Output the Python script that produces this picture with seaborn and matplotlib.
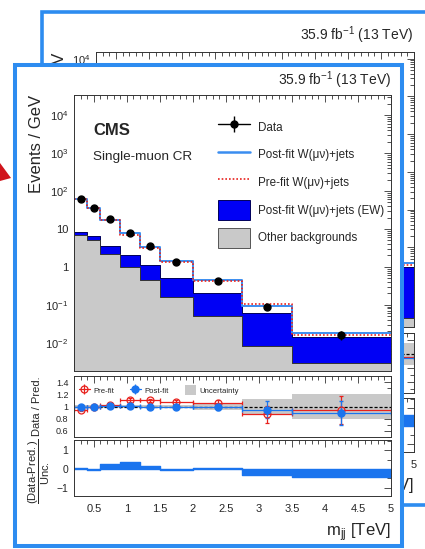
import numpy as np
import matplotlib
matplotlib.use("Agg")
import matplotlib.pyplot as plt
from matplotlib.patches import Rectangle, Polygon, Patch
from matplotlib.lines import Line2D
from matplotlib.legend_handler import HandlerTuple
from matplotlib.ticker import MultipleLocator, LogLocator, NullFormatter, FixedLocator, FixedFormatter
import seaborn as sns

# binning in m_jj [TeV]
edges = [0.2, 0.4, 0.6, 0.9, 1.2, 1.5, 2.0, 2.75, 3.5, 5.0]

# main panel (events / GeV)
data_vals = [60, 36, 18, 8.0, 3.5, 1.35, 0.43, 0.089, 0.016]
data_err = [1.2, 0.9, 0.6, 0.3, 0.2, 0.08, 0.03, 0.009, 0.004]
postfit = [60, 36, 17.5, 7.6, 3.4, 1.45, 0.44, 0.094, 0.018]
prefit = [63, 36, 17, 6.9, 3.15, 1.35, 0.42, 0.105, 0.0165]
ew_stack = [8.5, 6.6, 3.6, 2.0, 1.1, 0.5, 0.21, 0.062, 0.0145]
other_bkg = [7.0, 5.0, 2.2, 1.0, 0.46, 0.16, 0.05, 0.0083, 0.0029]

# ratio panel
ratio_pre = [0.94, 0.99, 1.03, 1.11, 1.10, 1.07, 1.06, 0.87, 0.95]
ratio_pre_err = [0.02, 0.02, 0.02, 0.03, 0.03, 0.03, 0.04, 0.14, 0.23]
ratio_post = [1.0, 1.0, 1.01, 1.01, 1.0, 1.0, 0.99, 0.95, 0.89]
ratio_post_err = [0.02, 0.02, 0.02, 0.03, 0.03, 0.03, 0.04, 0.14, 0.2]
unc_band = [0.02, 0.02, 0.02, 0.03, 0.03, 0.03, 0.05, 0.12, 0.2]

# pull panel
pulls = [0.05, -0.07, 0.28, 0.35, 0.14, -0.05, 0.03, -0.35, -0.42]

# slide behind: only its last bin is visible
back_edges = [3.5, 5.0]
back_postfit = [0.039]
back_prefit = [0.035]
back_ew_stack = [0.030]
back_other = [0.00135]
back_ratio_pre = [0.965]
back_ratio_post = [0.94]
back_unc = [0.155]
back_pulls = [0.6]

lumi_text = r"35.9 fb$^{-1}$ (13 TeV)"
xlabel = r"m$_{\mathrm{jj}}$ [TeV]"

sns.set_style("white")
plt.rcParams["font.family"] = ["Liberation Sans", "DejaVu Sans"]
plt.rcParams["mathtext.fontset"] = "custom"
plt.rcParams["mathtext.rm"] = "Liberation Sans"
plt.rcParams["mathtext.it"] = "Liberation Sans:italic"
plt.rcParams["mathtext.bf"] = "Liberation Sans:bold"

BLUE_LINE = "#3a8df0"
EW_BLUE = "#0000f5"
GREY = "#c9c9c9"
RED = "#e8211d"
PULL_BLUE = "#1a74ee"
FRAME = "#2d8cf0"

W, H = 425, 549


def box(l, t, r, b):
    return [l / W, 1 - b / H, (r - l) / W, (b - t) / H]


def mids(e):
    e = np.asarray(e)
    return 0.5 * (e[1:] + e[:-1])


def style(ax, ysize):
    ax.set_xlim(0.2, 5.0)
    ax.xaxis.set_major_locator(MultipleLocator(0.5))
    ax.xaxis.set_minor_locator(MultipleLocator(0.1))
    ax.tick_params(which="both", direction="in", top=True, right=True,
                   width=0.6, color="#333333")
    ax.tick_params(which="major", length=5)
    ax.tick_params(which="minor", length=2.6)
    ax.tick_params(axis="y", labelsize=ysize, pad=4)
    ax.tick_params(axis="x", labelsize=8, pad=6)
    for s in ax.spines.values():
        s.set_linewidth(0.7)
        s.set_color("#333333")
    ax.set_xlabel("")
    ax.set_ylabel("")


def draw_main(ax, e, ew, oth, post, pre, ymin, ymax, ylab="Events / GeV"):
    c = mids(e)
    sns.histplot(x=c, weights=ew, bins=e, element="step", fill=True, color=EW_BLUE,
                 alpha=1, edgecolor="#00005a", linewidth=0.7, ax=ax)
    sns.histplot(x=c, weights=oth, bins=e, element="step", fill=True, color=GREY,
                 alpha=1, edgecolor="#333333", linewidth=0.7, ax=ax)
    sns.histplot(x=c, weights=post, bins=e, element="step", fill=False, color=BLUE_LINE,
                 linewidth=1.4, ax=ax)
    sns.histplot(x=c, weights=pre, bins=e, element="step", fill=False, color=RED,
                 linewidth=1.2, linestyle=(0, (1, 1.2)), ax=ax)
    ax.set_yscale("log")
    ax.set_ylim(ymin, ymax)
    ax.yaxis.set_major_locator(FixedLocator([1e-2, 1e-1, 1, 10, 1e2, 1e3, 1e4]))
    ax.yaxis.set_major_formatter(FixedFormatter(
        [r"$10^{-2}$", r"$10^{-1}$", "1", "10", r"$10^{2}$", r"$10^{3}$", r"$10^{4}$"]))
    ax.yaxis.set_minor_locator(LogLocator(base=10, subs=np.arange(2, 10), numticks=30))
    ax.yaxis.set_minor_formatter(NullFormatter())
    style(ax, 8)
    ax.tick_params(labelbottom=False)
    ax.set_ylabel(ylab, fontsize=12, loc="top")
    ax.yaxis.set_label_coords(-0.095, 1.0)


def draw_ratio(ax, e, rpre, rpost, unc, rpre_err=None, rpost_err=None, ylim=(0.5, 1.5)):
    c = mids(e)
    w = np.diff(e)
    unc = np.asarray(unc)
    ax.bar(e[:-1], 2 * unc, width=w, bottom=1 - unc, align="edge", color=GREY, lw=0)
    ax.axhline(1.0, color="k", ls=(0, (2.5, 1.5)), lw=0.9)
    ax.errorbar(c, rpre, xerr=w / 2, yerr=rpre_err, fmt="o", color=RED, mfc="none",
                mec=RED, ms=5, mew=0.9, elinewidth=0.9, capsize=1.5)
    ax.errorbar(c, rpost, xerr=w / 2, yerr=rpost_err, fmt="o", color=PULL_BLUE,
                ms=5, elinewidth=0.9, capsize=1.5)
    ax.set_ylim(*ylim)
    ax.yaxis.set_major_locator(FixedLocator([0.6, 0.8, 1.0, 1.2, 1.4]))
    ax.yaxis.set_major_formatter(FixedFormatter(["0.6", "0.8", "1", "1.2", "1.4"]))
    ax.yaxis.set_minor_locator(MultipleLocator(0.1))
    style(ax, 6.5)
    ax.tick_params(labelbottom=False)


def draw_pull(ax, e, p):
    c = mids(e)
    sns.histplot(x=c, weights=p, bins=e, element="step", fill=True, color=PULL_BLUE,
                 alpha=1, linewidth=1.0, ax=ax)
    ax.set_ylim(-1.45, 1.55)
    ax.yaxis.set_major_locator(FixedLocator([-1, 0, 1]))
    ax.yaxis.set_major_formatter(FixedFormatter(["\u22121", "0", "1"]))
    ax.yaxis.set_minor_locator(MultipleLocator(0.5))
    style(ax, 7.5)
    ax.xaxis.set_major_formatter(matplotlib.ticker.FuncFormatter(lambda v, _: "%g" % v))
    ax.set_xlabel(xlabel, fontsize=12, loc="right")
    ax.xaxis.set_label_coords(1.0, -0.45)


fig = plt.figure(figsize=(W / 100, H / 100), dpi=100)

# ---------- slide in the back ----------
fig.patches.append(Rectangle(((41.5) / W, 1 - 505 / H), (460 - 41.5) / W, (505 - 11.5) / H,
                             transform=fig.transFigure, facecolor="white",
                             edgecolor=FRAME, lw=2.6, zorder=0.5))
bm = fig.add_axes(box(96, 52, 414, 327), zorder=1)
# only the end of the back y label peeks out above the front slide
draw_main(bm, back_edges, back_ew_stack, back_other, back_postfit, back_prefit, 7.8e-4, 1.5e4,
          ylab="GeV")
br = fig.add_axes(box(96, 333, 414, 393), zorder=1)
draw_ratio(br, np.array(back_edges), back_ratio_pre, back_ratio_post, back_unc, ylim=(0.45, 1.3))
bp = fig.add_axes(box(96, 398, 414, 452), zorder=1)
draw_pull(bp, back_edges, back_pulls)
fig.text(413 / W, 1 - 35 / H, lumi_text, ha="right", va="center", fontsize=10, zorder=1.5)

# ---------- slide in front ----------
fig.patches.append(Rectangle((15 / W, 1 - 546 / H), (402 - 15) / W, (546 - 65) / H,
                             transform=fig.transFigure, facecolor="white",
                             edgecolor=FRAME, lw=2.9, zorder=2))

ax = fig.add_axes(box(74, 95, 391, 371), zorder=3)
draw_main(ax, edges, ew_stack, other_bkg, postfit, prefit, 1.8e-3, 3.4e4)
ax.errorbar(mids(edges), data_vals, yerr=data_err, fmt="o", color="k", ms=5,
            elinewidth=1, capsize=0, zorder=6)
ax.text(0.06, 0.87, "CMS", transform=ax.transAxes, fontsize=12, fontweight="bold",
        va="center")
ax.text(0.06, 0.775, "Single-muon CR", transform=ax.transAxes, fontsize=9.7, va="center")

data_h = (Line2D([], [], color="k", lw=1),
          Line2D([], [], color="k", marker="|", ms=11, ls="none", mew=1),
          Line2D([], [], color="k", marker="o", ms=5, ls="none"))
handles = [data_h,
           Line2D([], [], color=BLUE_LINE, lw=1.8),
           Line2D([], [], color=RED, lw=1.2, ls=(0, (1, 1.2))),
           Patch(facecolor=EW_BLUE, edgecolor="#00005a", lw=0.7),
           Patch(facecolor=GREY, edgecolor="#555555", lw=0.7)]
labels = ["Data", "Post-fit W(\u03bc\u03bd)+jets", "Pre-fit W(\u03bc\u03bd)+jets",
          "Post-fit W(\u03bc\u03bd)+jets (EW)", "Other backgrounds"]
ax.legend(handles, labels, handler_map={tuple: HandlerTuple(ndivide=1)},
          loc="upper left", bbox_to_anchor=(0.454, 0.92), frameon=False, fontsize=8.4,
          handlelength=2.74, handleheight=2.26, handletextpad=0.69, labelspacing=0.66,
          borderpad=0, borderaxespad=0)

rx = fig.add_axes(box(74, 376, 391, 437), zorder=3)
draw_ratio(rx, np.array(edges), ratio_pre, ratio_post, unc_band, ratio_pre_err, ratio_post_err)
rx.set_ylabel("Data / Pred.", fontsize=8)
rx.yaxis.set_label_coords(-0.1, 0.5)
pre_h = (Line2D([], [], color=RED, lw=0.9),
         Line2D([], [], color=RED, marker="|", ms=7, ls="none", mew=0.9),
         Line2D([], [], color=RED, marker="o", ms=5, mfc="none", ls="none", mew=0.9))
post_h = (Line2D([], [], color=PULL_BLUE, lw=0.9),
          Line2D([], [], color=PULL_BLUE, marker="|", ms=7, ls="none", mew=0.9),
          Line2D([], [], color=PULL_BLUE, marker="o", ms=5, ls="none"))
rx.legend([pre_h, post_h, Patch(facecolor=GREY, lw=0)], ["Pre-fit", "Post-fit", "Uncertainty"],
          handler_map={tuple: HandlerTuple(ndivide=1)}, ncol=3, loc="center left",
          bbox_to_anchor=(0.015, 0.77), frameon=False, fontsize=5.6, handlelength=1.4,
          handleheight=1.6, handletextpad=0.5, columnspacing=2.0, borderpad=0, borderaxespad=0)

px = fig.add_axes(box(74, 440, 391, 496), zorder=3)
draw_pull(px, edges, pulls)
px.set_ylabel(r"$\dfrac{\mathrm{(Data}\text{-}\mathrm{Pred.)}}{\mathrm{Unc.}}$", fontsize=8)
px.yaxis.set_label_coords(-0.069, 0.43)

fig.text(391 / W, 1 - 80 / H, lumi_text, ha="right", va="center", fontsize=10, zorder=3.5)

# red arrow tip at the left edge
arrow = [(0, 163), (11, 178), (0, 181)]
fig.patches.append(Polygon([(x / W, 1 - y / H) for x, y in arrow], closed=True,
                           transform=fig.transFigure, facecolor="#d0141c", lw=0, zorder=4))

fig.savefig("out.png", dpi=100)
